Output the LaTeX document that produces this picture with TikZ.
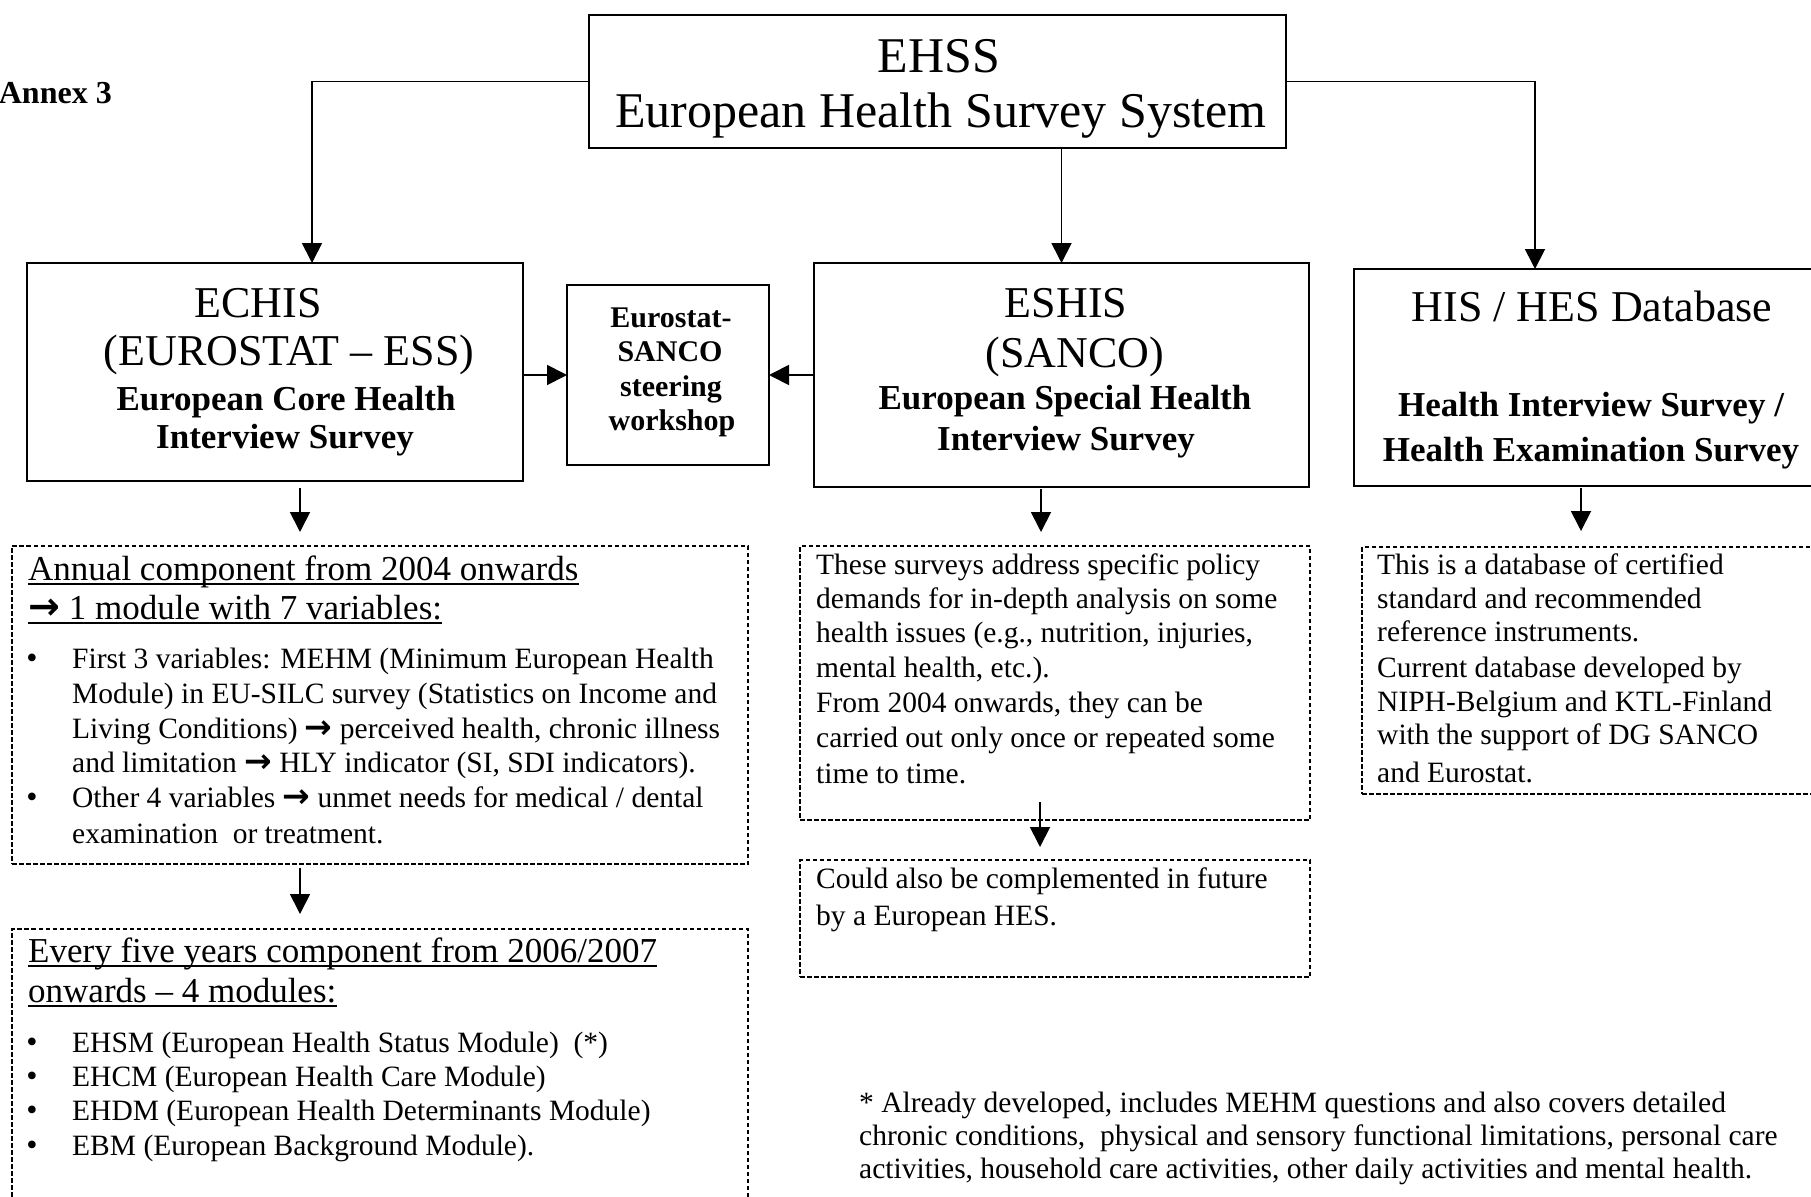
\documentclass[tikz,border=0pt]{standalone}
\usepackage{fontspec}
\setmainfont{Liberation Serif}
\newfontfamily\symfont{DejaVu Sans}
\usetikzlibrary{arrows.meta}

% font sizes (1pt = 1 output pixel)
\newcommand\fTitle{\fontsize{50}{55}\selectfont}
\newcommand\fHead{\fontsize{44}{48}\selectfont}
\newcommand\fSub{\fontsize{35}{38}\selectfont\bfseries}
\newcommand\fSmallB{\fontsize{30}{34}\selectfont\bfseries}
\newcommand\fComp{\fontsize{35}{38}\selectfont}
\newcommand\fBody{\fontsize{29.5}{34}\selectfont}
\newcommand\arr{{\symfont\bfseries\fontsize{33}{34}\selectfont →}}
\newcommand\bul{{\fontsize{32}{34}\selectfont •}}

\tikzset{
  solidbox/.style={draw, line width=1.9pt, inner sep=0pt, outer sep=0pt},
  dashbox/.style={draw, line width=1.5pt, dash pattern=on 4.5pt off 2.5pt, inner sep=0pt, outer sep=0pt},
  conn/.style={line width=1.8pt, -{Triangle[width=20pt,length=20pt]}},
  ctext/.style={anchor=base, inner sep=0pt},
  ltext/.style={anchor=base west, inner sep=0pt},
  uline/.style={line width=1.6pt},
}

\begin{document}
\begin{tikzpicture}[x=1pt,y=-1pt]
\useasboundingbox (0,0) rectangle (1811,1196);

% ---------- solid boxes ----------
\node[solidbox, minimum width=697pt, minimum height=133pt] (ehss)  at (937.5,81.5) {};
\node[solidbox, minimum width=496pt, minimum height=218pt] (echis) at (275,372) {};
\node[solidbox, minimum width=202pt, minimum height=180pt] (steer) at (668,375) {};
\node[solidbox, minimum width=495pt, minimum height=224pt] (eshis) at (1061.5,375) {};
\node[solidbox, minimum width=476pt, minimum height=217pt] (his)   at (1592,377.5) {};

% ---------- dashed boxes ----------
\node[dashbox, minimum width=736pt, minimum height=318pt] (annual) at (380,705) {};
\node[dashbox, minimum width=736pt, minimum height=281pt] (five)   at (380,1069.5) {};
\node[dashbox, minimum width=510pt, minimum height=274pt] (special) at (1055,683) {};
\node[dashbox, minimum width=510pt, minimum height=117pt] (future) at (1055,918.5) {};
\node[dashbox, minimum width=468pt, minimum height=247pt] (dbnote) at (1596,670.5) {};

% ---------- heading ----------
\node[anchor=base east, inner sep=0pt, font=\fontsize{32}{36}\selectfont\bfseries] (annex) at (112,103) {Annex 3};

% ---------- EHSS ----------
\node[ctext, font=\fTitle] (ehss-a) at (939,73) {EHSS};
\node[ctext, font=\fTitle] (ehss-b) at (941,128) {European Health Survey System};

% ---------- ECHIS ----------
\node[ctext, font=\fHead] (echis-a) at (258,317) {ECHIS};
\node[ctext, font=\fHead] (echis-b) at (289,365) {(EUROSTAT – ESS)};
\node[ctext, font=\fSub]  (echis-c) at (286,410) {European Core Health};
\node[ctext, font=\fSub]  (echis-d) at (285,448) {Interview Survey};

% ---------- steering workshop ----------
\node[ctext, font=\fSmallB] (steer-a) at (671,327) {Eurostat-};
\node[ctext, font=\fSmallB] (steer-b) at (670,361.5) {SANCO};
\node[ctext, font=\fSmallB] (steer-c) at (671,396) {steering};
\node[ctext, font=\fSmallB] (steer-d) at (672,430) {workshop};

% ---------- ESHIS ----------
\node[ctext, font=\fHead] (eshis-a) at (1066,317) {ESHIS};
\node[ctext, font=\fHead] (eshis-b) at (1075,367) {(SANCO)};
\node[ctext, font=\fSub]  (eshis-c) at (1065,409) {European Special Health};
\node[ctext, font=\fSub]  (eshis-d) at (1066,450) {Interview Survey};

% ---------- HIS / HES ----------
\node[ctext, font=\fHead] (his-a) at (1592,321) {HIS / HES Database};
\node[ctext, font=\fSub]  (his-b) at (1591,416) {Health Interview Survey /};
\node[ctext, font=\fSub]  (his-c) at (1591,461) {Health Examination Survey};

% ---------- annual component ----------
\node[ltext, font=\fComp] (ann-h1) at (28,580) {Annual component from 2004 onwards};
\node[ltext, font=\fComp] (ann-h2) at (28,619) {{\symfont\bfseries\fontsize{38}{38}\selectfont →} 1 module with 7 variables:};
\draw[uline] ([yshift=-4pt]ann-h1.base west) -- ([yshift=-4pt]ann-h1.base east);
\draw[uline] ([yshift=-4pt]ann-h2.base west) -- ([yshift=-4pt]ann-h2.base east);
\node[ctext] (ann-b1) at (32,668) {\bul};
\node[ctext] (ann-b2) at (32,807) {\bul};
\node[ltext, font=\fBody] (ann-1) at (72,668) {First 3 variables: MEHM (Minimum European Health};
\node[ltext, font=\fBody] (ann-2) at (72,703) {Module) in EU-SILC survey (Statistics on Income and};
\node[ltext, font=\fBody] (ann-3) at (72,738) {Living Conditions) \arr{} perceived health, chronic illness};
\node[ltext, font=\fBody] (ann-4) at (72,772) {and limitation \arr{} HLY indicator (SI, SDI indicators).};
\node[ltext, font=\fBody] (ann-5) at (72,807) {Other 4 variables \arr{} unmet needs for medical / dental};
\node[ltext, font=\fBody] (ann-6) at (72,843) {examination\ \ or treatment.};

% ---------- five-yearly component ----------
\node[ltext, font=\fComp] (five-h1) at (28,962) {Every five years component from 2006/2007};
\node[ltext, font=\fComp] (five-h2) at (28,1002) {onwards – 4 modules:};
\draw[uline] ([yshift=-4pt]five-h1.base west) -- ([yshift=-4pt]five-h1.base east);
\draw[uline] ([yshift=-4pt]five-h2.base west) -- ([yshift=-4pt]five-h2.base east);
\node[ctext] (five-b1) at (32,1052) {\bul};
\node[ctext] (five-b2) at (32,1086) {\bul};
\node[ctext] (five-b3) at (32,1120) {\bul};
\node[ctext] (five-b4) at (32,1155) {\bul};
\node[ltext, font=\fBody] (five-1) at (72,1052) {EHSM (European Health Status Module)\ \ (*)};
\node[ltext, font=\fBody] (five-2) at (72,1086) {EHCM (European Health Care Module)};
\node[ltext, font=\fBody] (five-3) at (72,1120) {EHDM (European Health Determinants Module)};
\node[ltext, font=\fBody] (five-4) at (72,1155) {EBM (European Background Module).};

% ---------- special surveys ----------
\node[ltext, font=\fBody] (sp-1) at (816,574) {These surveys address specific policy};
\node[ltext, font=\fBody] (sp-2) at (816,608) {demands for in-depth analysis on some};
\node[ltext, font=\fBody] (sp-3) at (816,642) {health issues (e.g., nutrition, injuries,};
\node[ltext, font=\fBody] (sp-4) at (816,677) {mental health, etc.).};
\node[ltext, font=\fBody] (sp-5) at (816,712) {From 2004 onwards, they can be};
\node[ltext, font=\fBody] (sp-6) at (816,747) {carried out only once or repeated some};
\node[ltext, font=\fBody] (sp-7) at (816,783) {time to time.};
\node[ltext, font=\fBody] (fu-1) at (816,888) {Could also be complemented in future};
\node[ltext, font=\fBody] (fu-2) at (816,925) {by a European HES.};

% ---------- database note ----------
\node[ltext, font=\fBody] (db-1) at (1377,574) {This is a database of certified};
\node[ltext, font=\fBody] (db-2) at (1377,608) {standard and recommended};
\node[ltext, font=\fBody] (db-3) at (1377,641) {reference instruments.};
\node[ltext, font=\fBody] (db-4) at (1377,677) {Current database developed by};
\node[ltext, font=\fBody] (db-5) at (1377,711) {NIPH-Belgium and KTL-Finland};
\node[ltext, font=\fBody] (db-6) at (1377,744) {with the support of DG SANCO};
\node[ltext, font=\fBody] (db-7) at (1377,782) {and Eurostat.};

% ---------- footnote ----------
\node[ltext, font=\fBody] (fn-1) at (859,1112) {* Already developed, includes MEHM questions and also covers detailed};
\node[ltext, font=\fBody] (fn-2) at (859,1145) {chronic conditions,\ \ physical and sensory functional limitations, personal care};
\node[ltext, font=\fBody] (fn-3) at (859,1178) {activities, household care activities, other daily activities and mental health.};

% ---------- connectors ----------
\draw[conn] (ehss.west) -| ([xshift=37pt]echis.north);
\draw[conn] (ehss.south -| eshis.north) -- (eshis.north);
\draw[conn] (ehss.east) -| ([xshift=-57pt]his.north);
\draw[conn] (echis.east |- steer.west) -- (steer.west);
\draw[conn] (eshis.west |- steer.east) -- (steer.east);
\draw[conn, shorten <=7pt, shorten >=14pt] ([xshift=25pt]echis.south) -- ([xshift=25pt]echis.south |- annual.north);
\draw[conn, shorten <=4pt, shorten >=15pt] ([xshift=-80pt]annual.south) -- ([xshift=-80pt]five.north);
\draw[conn, shorten <=2pt, shorten >=14pt] ([xshift=-20.5pt]eshis.south) -- ([xshift=-20.5pt]eshis.south |- special.north);
\draw[conn, shorten <=-18pt, shorten >=13pt] ([xshift=-15pt]special.south) -- ([xshift=-15pt]future.north);
\draw[conn, shorten <=2pt, shorten >=16pt] ([xshift=-11pt]his.south) -- ([xshift=-11pt]his.south |- dbnote.north);
\end{tikzpicture}
\end{document}
